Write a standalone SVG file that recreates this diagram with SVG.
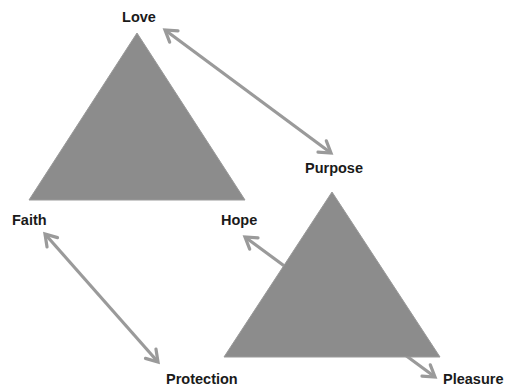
<svg xmlns="http://www.w3.org/2000/svg" width="505" height="390" viewBox="0 0 505 390">
<defs>
<style>
.tri{fill:#8c8c8c;stroke:#9a9a9a;stroke-width:1}
.conn{stroke:#9a9a9a;stroke-width:3.2;fill:none;marker-start:url(#ah);marker-end:url(#ah)}
.lbl{font-family:"Liberation Sans",Arial,sans-serif;font-weight:bold;font-size:14.5px;fill:#1a1a1a}
</style>
<marker id="ah" markerUnits="userSpaceOnUse" markerWidth="20" markerHeight="20" viewBox="-14 -10 18 20" refX="0" refY="0" orient="auto-start-reverse">
<path d="M-11,-7 L0,0 L-11,7" fill="none" stroke="#9a9a9a" stroke-width="3.2" stroke-linecap="round" stroke-linejoin="miter"/>
</marker>
</defs>
<rect width="505" height="390" fill="#ffffff"/>
<g id="connectors">
<line class="conn" x1="165" y1="30" x2="331" y2="153"/>
<line class="conn" x1="45" y1="234" x2="158" y2="362"/>
<line class="conn" x1="245" y1="237" x2="435" y2="377"/>
</g>
<g id="triangle1"><polygon class="tri" points="137,33 29,200 245,200"/></g>
<g id="triangle2"><polygon class="tri" points="332,192 224,357 440,357"/></g>
<g id="love"><text class="lbl" x="139" y="22" text-anchor="middle">Love</text></g>
<g id="purpose"><text class="lbl" x="334" y="173" text-anchor="middle">Purpose</text></g>
<g id="faith"><text class="lbl" x="12" y="225">Faith</text></g>
<g id="hope"><text class="lbl" x="221" y="225">Hope</text></g>
<g id="protection"><text class="lbl" x="166" y="384">Protection</text></g>
<g id="pleasure"><text class="lbl" x="443" y="384">Pleasure</text></g>
</svg>
